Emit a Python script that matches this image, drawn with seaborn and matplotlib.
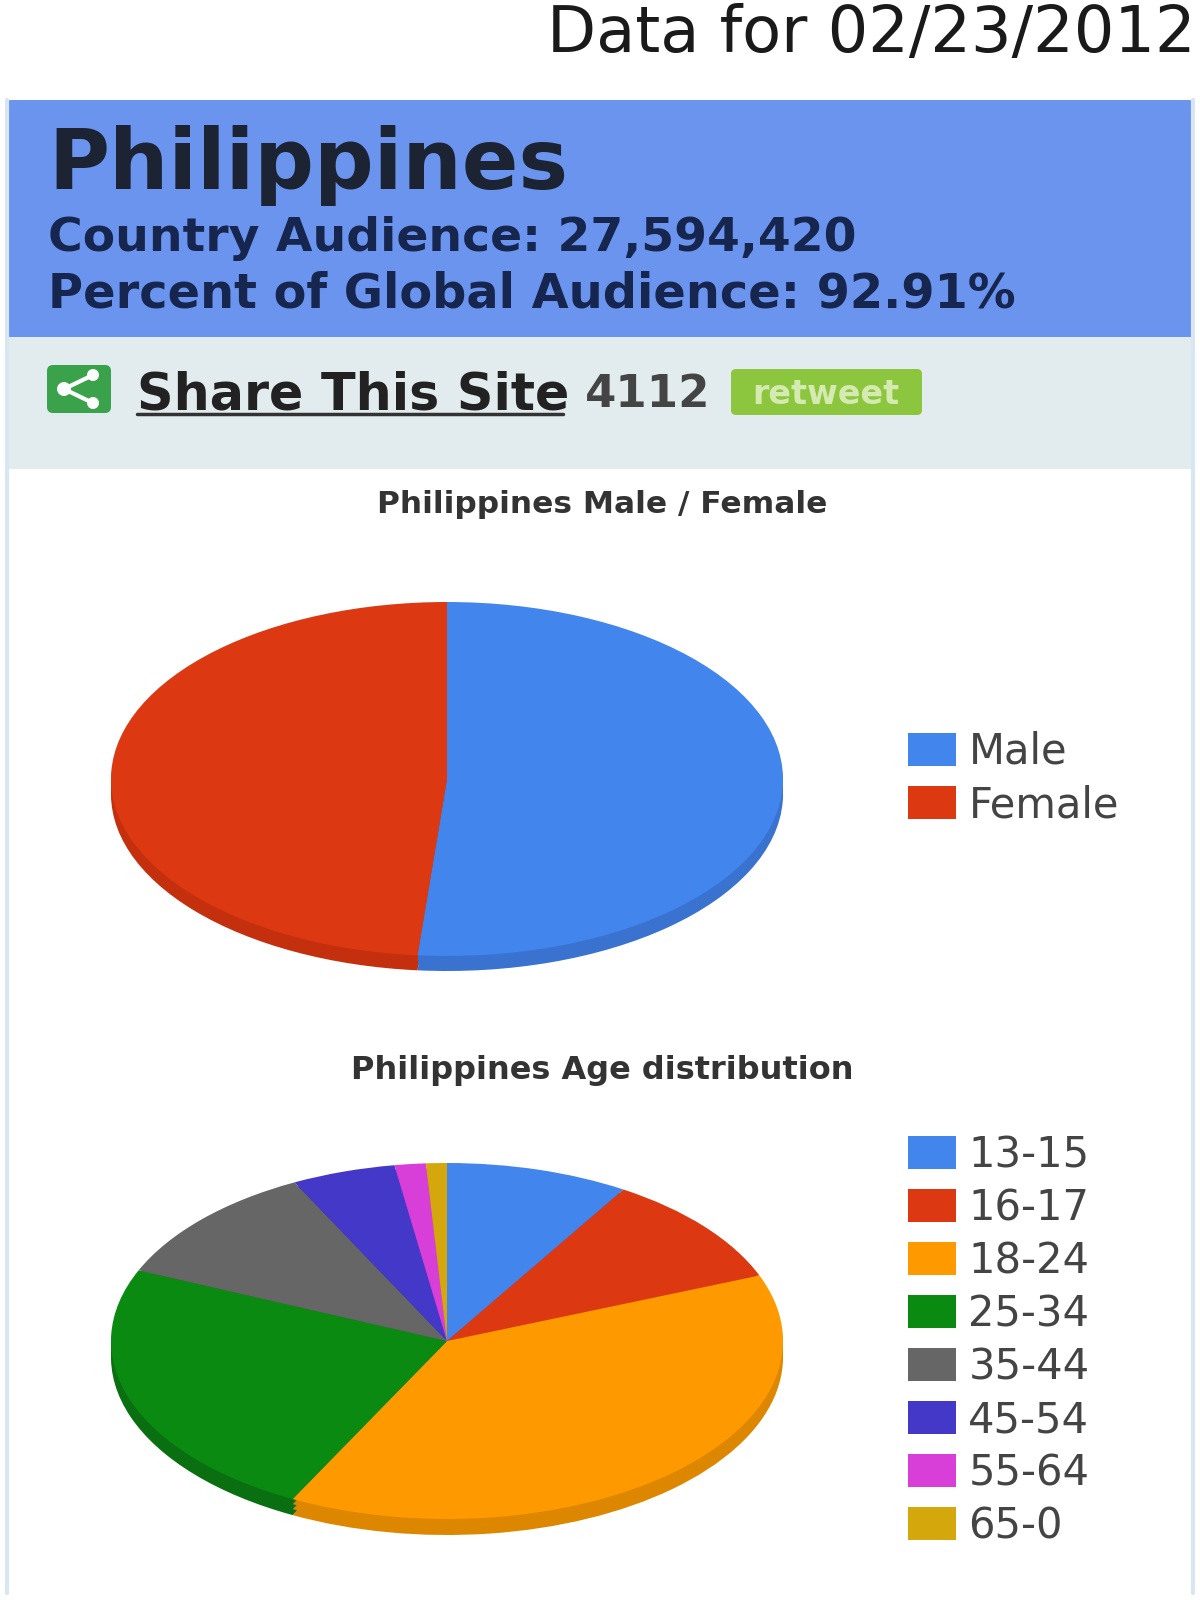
import matplotlib
matplotlib.use("Agg")
import matplotlib.pyplot as plt
import seaborn as sns
from matplotlib.patches import Rectangle, FancyBboxPatch, Circle
from matplotlib.lines import Line2D

# ---- data ----
DATE_TITLE = "Data for 02/23/2012"
COUNTRY = "Philippines"
AUDIENCE_LINE = "Country Audience: 27,594,420"
PERCENT_LINE = "Percent of Global Audience: 92.91%"
SHARE_COUNT = "4112"

gender_labels = ["Male", "Female"]
gender_values = [51.4, 48.6]

age_labels = ["13-15", "16-17", "18-24", "25-34", "35-44", "45-54", "55-64", "65-0"]
age_values = [8.8, 10.2, 38.6, 23.9, 11.0, 5.0, 1.5, 1.0]

gender_hex = ["#4285ec", "#dc3912"]
age_hex = ["#4285ec", "#dc3912", "#ff9900", "#0b8a12", "#666666", "#4338c8", "#d83ed8", "#d4a80c"]
gender_side = ["#3a72d0", "#c4300e"]
age_side = ["#3a72d0", "#c4300e", "#dd8600", "#0a6f10", "#555555", "#3a30a8", "#b030b0", "#b08c0a"]

# ---- theme ----
sns.set_theme(style="white")
plt.rcParams["font.family"] = ["DejaVu Sans"]

W, H = 1200, 1600
fig = plt.figure(figsize=(W / 100, H / 100), dpi=100, facecolor="white")

# page layer in pixel units
page = fig.add_axes([0, 0, 1, 1], zorder=0)
page.set_xlim(0, W)
page.set_ylim(H, 0)
page.axis("off")

# panel
L, R = 6, 1194
for x in (L + 1, R - 1):
    page.add_line(Line2D([x, x], [100, 1593], color="#d8e6f2", lw=3))
page.add_patch(FancyBboxPatch((L + 5, 105), R - L - 10, 240, boxstyle="round,pad=5,rounding_size=5",
                              fc="#6a94ee", ec="none"))
page.add_patch(Rectangle((L, 337), R - L, 132, fc="#e2ecee", ec="none"))

# texts
DARK = "#1c2433"
NAVY = "#16264e"
page.text(1196, 52, DATE_TITLE, ha="right", va="baseline", fontsize=46, color="#1a1a1a")
page.text(48, 189, COUNTRY, ha="left", va="baseline", fontsize=60, fontweight="bold", color=DARK)
page.text(48, 251, AUDIENCE_LINE, ha="left", va="baseline", fontsize=34, fontweight="bold", color=NAVY)
page.text(48, 307, PERCENT_LINE, ha="left", va="baseline", fontsize=34.5, fontweight="bold", color=NAVY)

# share icon
page.add_patch(FancyBboxPatch((51, 369), 56, 40, boxstyle="round,pad=4,rounding_size=6",
                              fc="#3aa24a", ec="none"))
page.add_line(Line2D([93, 64, 93], [375, 389, 403], color="white", lw=3))
for cx, cy, r in [(93, 375, 6), (64, 389, 7), (93, 403, 6)]:
    page.add_patch(Circle((cx, cy), r, fc="white", ec="none"))

page.text(137, 409, "Share This Site", ha="left", va="baseline", fontsize=36.5, fontweight="bold", color="#222222")
page.add_line(Line2D([137, 563], [414, 414], color="#333333", lw=2.5))
page.text(585, 407, SHARE_COUNT, ha="left", va="baseline", fontsize=32.5, fontweight="bold", color="#444444")
page.add_patch(FancyBboxPatch((735, 373), 183, 38, boxstyle="round,pad=4,rounding_size=5",
                              fc="#8cc63f", ec="none"))
page.text(826, 404, "retweet", ha="center", va="baseline", fontsize=24, fontweight="bold", color="#d4eab0")

page.text(602, 513, "Philippines Male / Female", ha="center", va="baseline", fontsize=22.5,
          fontweight="bold", color="#333333")
page.text(602, 1079, "Philippines Age distribution", ha="center", va="baseline", fontsize=23,
          fontweight="bold", color="#333333")


def pie_axes(cx, cy, rx, ry, zorder):
    ax = fig.add_axes([(cx - rx) / W, 1 - (cy + ry) / H, 2 * rx / W, 2 * ry / H], zorder=zorder)
    ax.patch.set_alpha(0)
    return ax


def draw_pie(values, labels, top, side, cx, cy, rx, ry, depth, legend_top, z):
    top_pal = sns.color_palette(top)
    side_pal = sns.color_palette(side)
    for i, dz in enumerate((depth, depth * 2 // 3, depth // 3)):
        a = pie_axes(cx, cy + dz, rx, ry, z + i)
        a.pie(values, colors=side_pal, startangle=90, counterclock=False, radius=1,
              wedgeprops=dict(linewidth=0))
        a.set_aspect("auto")
        a.set_xlim(-1, 1)
        a.set_ylim(-1, 1)
    ax = pie_axes(cx, cy, rx, ry, z + 3)
    wedges, _ = ax.pie(values, labels=None, colors=top_pal, startangle=90, counterclock=False,
                       radius=1, wedgeprops=dict(linewidth=0))
    ax.set_aspect("auto")
    ax.set_xlim(-1, 1)
    ax.set_ylim(-1, 1)
    leg = ax.legend(wedges, labels, loc="upper left",
                    bbox_to_anchor=(908 / W, 1 - legend_top / H), bbox_transform=fig.transFigure,
                    frameon=False, fontsize=30, handlelength=1.15, handleheight=0.85,
                    handletextpad=0.3, labelspacing=0.265, borderpad=0, borderaxespad=0,
                    labelcolor="#444444")
    return ax, leg


draw_pie(gender_values, gender_labels, gender_hex, gender_side, 447, 779, 336, 177, 15, 731, 2)
draw_pie(age_values, age_labels, age_hex, age_side, 447, 1341, 336, 178, 16, 1134, 8)

fig.savefig("out.png", dpi=100)
